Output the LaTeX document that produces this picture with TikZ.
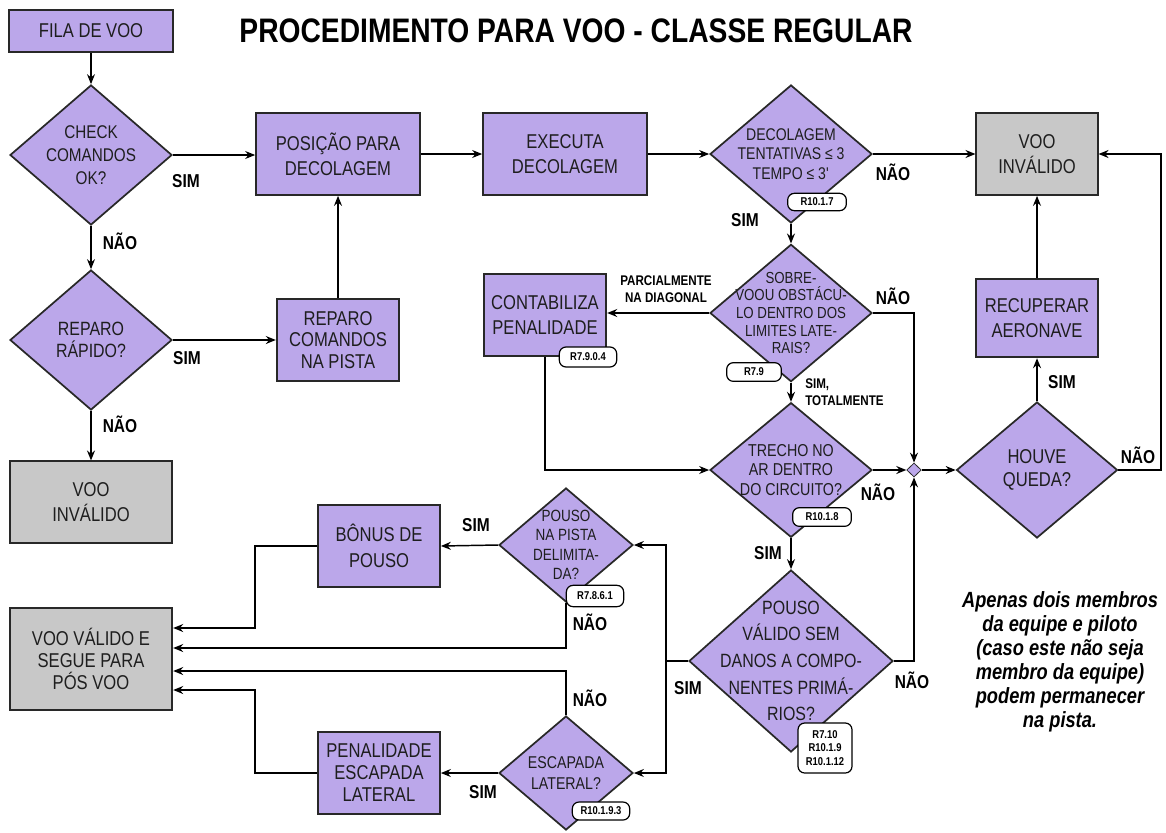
\documentclass[tikz,border=0pt]{standalone}
\usepackage{fontspec}
\setmainfont{Liberation Sans}[FakeStretch=0.83]
\usetikzlibrary{arrows.meta,shapes.geometric,calc}
\definecolor{lav}{RGB}{187,167,234}
\definecolor{gbox}{RGB}{200,200,200}
\definecolor{edgec}{RGB}{40,40,40}
\definecolor{txt}{RGB}{30,30,30}
\begin{document}
\begin{tikzpicture}[x=0.75pt,y=-0.75pt,
  box/.style={draw=edgec,line width=1.3pt,fill=lav,align=center,inner sep=0pt,text=txt,font=\fontsize{15}{19}\selectfont},
  greybox/.style={fill=gbox},
  dia/.style={diamond,draw=edgec,line width=1.3pt,fill=lav,inner sep=0pt},
  dtext/.style={align=center,inner sep=0pt,text=txt},
  lbl/.style={font=\bfseries\fontsize{14}{16}\selectfont,inner sep=0pt},
  slbl/.style={font=\bfseries\fontsize{10.5}{12.5}\selectfont,inner sep=0pt},
  tag/.style={draw=black,fill=white,rounded corners=5pt,line width=0.9pt,font=\bfseries\fontsize{8.5}{10}\selectfont,inner sep=0pt,align=center},
  arr/.style={-{Stealth[length=7.5pt,width=6pt,inset=2.5pt]},line width=1.1pt},
  ln/.style={line width=1.1pt}
]
\useasboundingbox (0,0) rectangle (1166,832);

% title
\node[font=\bfseries\fontsize{25.5}{28}\selectfont,inner sep=0pt] (title) at (576,31) {PROCEDIMENTO PARA VOO - CLASSE REGULAR};

% left column
\node[box,minimum width=123pt,minimum height=32pt] (fila) at (91,31) {FILA DE VOO};
\node[dia,minimum width=121.5pt,minimum height=105pt,
  label={[dtext,font=\fontsize{13.8}{17.5}\selectfont]center:CHECK\\COMANDOS\\OK?}] (check) at (91,155) {};
\node[dia,minimum width=121.5pt,minimum height=105pt,
  label={[dtext,font=\fontsize{14.4}{16.3}\selectfont]center:REPARO\\RÁPIDO?}] (rr) at (91,340) {};
\node[box,greybox,minimum width=122pt,minimum height=61pt] (inv1) at (91,502) {VOO\\INVÁLIDO};
\node[box,greybox,minimum width=122pt,minimum height=76.5pt,font=\fontsize{15}{16.3}\selectfont] (vv) at (91,659) {VOO VÁLIDO E\\SEGUE PARA\\PÓS VOO};

% top row
\node[box,minimum width=123pt,minimum height=61.5pt] (pos) at (338,154) {POSIÇÃO PARA\\DECOLAGEM};
\node[box,minimum width=92pt,minimum height=61pt,font=\fontsize{15}{16.3}\selectfont] (repc) at (338,340) {REPARO\\COMANDOS\\NA PISTA};
\node[box,minimum width=123pt,minimum height=61.5pt] (exe) at (565,154) {EXECUTA\\DECOLAGEM};
\node[dia,minimum width=121.5pt,minimum height=103.5pt,
  label={[dtext,font=\fontsize{12.7}{14.6}\selectfont]center:DECOLAGEM\\TENTATIVAS ≤ 3\\TEMPO ≤ 3\textquotesingle}] (dec) at (791,154) {};
\node[box,greybox,minimum width=91pt,minimum height=61.5pt] (inv2) at (1037,154) {VOO\\INVÁLIDO};
\node[box,minimum width=91pt,minimum height=59pt] (rec) at (1037,318) {RECUPERAR\\AERONAVE};
\node[dia,minimum width=120.75pt,minimum height=102pt,
  label={[dtext,font=\fontsize{15}{17.5}\selectfont]center:HOUVE\\QUEDA?}] (hq) at (1037,470) {};
\node[dia,line width=0.6pt,minimum width=11pt,minimum height=10.5pt] (j) at (914,470) {};

% middle column
\node[dia,minimum width=121.5pt,minimum height=103pt,
  label={[dtext,font=\fontsize{12}{13.3}\selectfont]center:SOBRE-\\VOOU OBSTÁCU-\\LO DENTRO DOS\\LIMITES LATE-\\RAIS?}] (sob) at (791,313) {};
\node[box,minimum width=92pt,minimum height=61.5pt] (cont) at (545,315) {CONTABILIZA\\PENALIDADE};
\node[dia,minimum width=121.5pt,minimum height=101pt,
  label={[dtext,font=\fontsize{12.9}{14.4}\selectfont]center:TRECHO NO\\AR DENTRO\\DO CIRCUITO?}] (tre) at (791,470) {};
\node[dia,minimum width=153pt,minimum height=136.5pt,
  label={[dtext,font=\fontsize{14.4}{20}\selectfont]center:POUSO\\VÁLIDO SEM\\DANOS A COMPO-\\NENTES PRIMÁ-\\RIOS?}] (pv) at (791,661) {};
\node[dia,minimum width=100.5pt,minimum height=85.5pt,
  label={[dtext,font=\fontsize{12.2}{14.6}\selectfont]center:POUSO\\NA PISTA\\DELIMITA-\\DA?}] (pnp) at (566,545) {};
\node[dia,minimum width=100.5pt,minimum height=85.5pt,
  label={[dtext,font=\fontsize{12.8}{16.3}\selectfont]center:ESCAPADA\\LATERAL?}] (esc) at (566,773) {};
\node[box,minimum width=91.5pt,minimum height=61.5pt] (bon) at (379,546) {BÔNUS DE\\POUSO};
\node[box,minimum width=91.5pt,minimum height=61pt,font=\fontsize{15}{16.5}\selectfont] (pen) at (379,773) {PENALIDADE\\ESCAPADA\\LATERAL};

% note
\node[align=center,inner sep=0pt,font=\bfseries\itshape\fontsize{16.5}{18}\selectfont] (note) at (1060,662)
  {Apenas dois membros\\da equipe e piloto\\(caso este não seja\\membro da equipe)\\podem permanecer\\na pista.};

% connectors
\draw[arr] (fila.south) -- (check.north);
\draw[arr] (check.east) -- (check.east -| pos.west);
\draw[arr] (check.south) -- (rr.north);
\draw[arr] (rr.east) -- (rr.east -| repc.west);
\draw[arr] (rr.south) -- (inv1.north);
\draw[arr] (repc.north) -- (pos.south);
\draw[arr] (pos.east) -- (exe.west);
\draw[arr] (exe.east) -- (dec.west);
\draw[arr] (dec.east) -- (inv2.west);
\draw[arr] (dec.south) -- (sob.north);
\draw[arr] (sob.west) -- (sob.west -| cont.east);
\draw[arr] (sob.east) -| (j.north);
\draw[arr] (sob.south) -- (tre.north);
\draw[arr] (cont.south) |- (tre.west);
\draw[arr] (tre.east) -- (j.west);
\draw[arr] (tre.south) -- (pv.north);
\draw[arr] (pv.east) -| (j.south);
\draw[arr] (j.east) -- (hq.west);
\draw[arr] (hq.north) -- (rec.south);
\draw[arr] (rec.north) -- (inv2.south);
\coordinate (cr) at (1161,470);
\draw[arr] (hq.east) -- (cr) |- (inv2.east);
\coordinate (spl) at (666,661);
\draw[ln] (pv.west) -- (spl);
\draw[arr] (spl) |- (pnp.east);
\draw[arr] (spl) |- (esc.east);
\draw[arr] (pnp.west) -- (bon.east);
\coordinate (cb) at (255,546);
\draw[arr] (bon.west) -- (cb) |- ([yshift=23.25pt]vv.east);
\draw[arr] (pnp.south) |- ([yshift=8.25pt]vv.east);
\draw[arr] (esc.north) |- ([yshift=-9pt]vv.east);
\draw[arr] (esc.west) -- (pen.east);
\coordinate (cp) at (255,773);
\draw[arr] (pen.west) -- (cp) |- ([yshift=-23.25pt]vv.east);

% labels
\node[lbl] (l1) at (186,181) {SIM};
\node[lbl] (l2) at (120,241) {NÃO};
\node[lbl] (l3) at (187,358) {SIM};
\node[lbl] (l4) at (120,424) {NÃO};
\node[lbl] (l5) at (745,220) {SIM};
\node[lbl] (l6) at (893,172) {NÃO};
\node[lbl] (l7) at (893,296) {NÃO};
\node[lbl] (l8) at (1062,382) {SIM};
\node[lbl] (l9) at (1138,455) {NÃO};
\node[lbl] (l10) at (878,492) {NÃO};
\node[lbl] (l11) at (768,553) {SIM};
\node[lbl] (l12) at (912,680) {NÃO};
\node[lbl] (l13) at (688,688) {SIM};
\node[lbl] (l14) at (476,525) {SIM};
\node[lbl] (l15) at (590,622) {NÃO};
\node[lbl] (l16) at (590,698) {NÃO};
\node[lbl] (l17) at (483,792) {SIM};
\node[slbl,align=center] (l18) at (666,289) {PARCIALMENTE\\NA DIAGONAL};
\node[slbl,align=left,anchor=west] (l19) at (805,392) {SIM,\\TOTALMENTE};

% rule tags
\node[tag,minimum width=44pt,minimum height=13pt] (t1) at (817,202) {R10.1.7};
\node[tag,minimum width=41pt,minimum height=14pt] (t2) at (754,372) {R7.9};
\node[tag,minimum width=43pt,minimum height=15pt] (t3) at (588,357) {R7.9.0.4};
\node[tag,minimum width=44pt,minimum height=14pt] (t4) at (822,517) {R10.1.8};
\node[tag,minimum width=43pt,minimum height=16pt] (t5) at (595,596) {R7.8.6.1};
\node[tag,minimum width=43pt,minimum height=13.5pt] (t6) at (601,811) {R10.1.9.3};
\node[tag,minimum width=40.5pt,minimum height=37.5pt] (t7) at (825,748) {R7.10\\R10.1.9\\R10.1.12};
\end{tikzpicture}
\end{document}
